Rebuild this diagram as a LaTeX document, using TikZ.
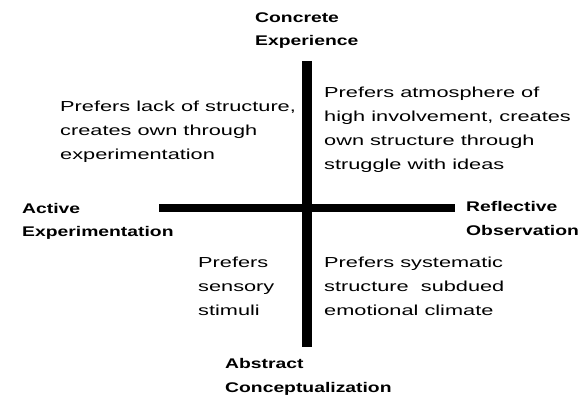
\documentclass[tikz,border=0pt]{standalone}
\usepackage{fontspec}
\setmainfont{Liberation Sans}
\newfontfamily\bodyfont{Liberation Sans}[FakeStretch=1.5]
\newfontfamily\lblfont{Liberation Sans Bold}[FakeStretch=1.38]
\begin{document}
\begin{tikzpicture}[x=1pt,y=-1pt,
  bar/.style={line width=#1, black},
  lbl/.style={anchor=base west, inner sep=0pt, align=left,
    font={\lblfont\fontsize{14}{23.5}\selectfont}},
  body/.style={anchor=base west, inner sep=0pt, align=left,
    font={\bodyfont\fontsize{14.5}{24}\selectfont}}]
\useasboundingbox[fill=white] (0,0) rectangle (586,401);
% axes
\coordinate (top) at (307,61);
\coordinate (bottom) at (307,347);
\coordinate (left) at (159,207.5);
\coordinate (right) at (455,207.5);
\draw[bar=8pt] (left) -- (right);
\draw[bar=10pt] (top) -- (bottom);
% pole labels (anchored at the baseline of their last line)
\node[lbl] (ce) at (255,46) {Concrete\\Experience};
\node[lbl] (ae) at (22,236.5) {Active\\Experimentation};
\node[lbl] (ro) at (466,235) {Reflective\\Observation};
\node[lbl] (ac) at (225,392) {Abstract\\Conceptualization};
% quadrant texts
\node[body] (ul) at (60,160) {Prefers lack of structure,\\creates own through\\experimentation};
\node[body] (ur) at (324,169) {Prefers atmosphere of\\high involvement, creates\\own structure through\\struggle with ideas};
\node[body] (ll) at (198,315) {Prefers\\sensory\\stimuli};
\node[body] (lr) at (324,315) {Prefers systematic\\structure\ \ subdued\\emotional climate};
\end{tikzpicture}
\end{document}
